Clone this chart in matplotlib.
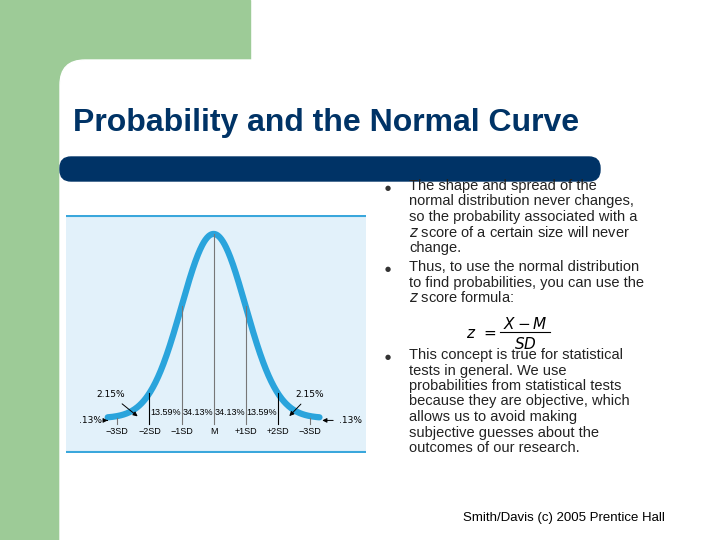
import numpy as np
import matplotlib
matplotlib.use("Agg")
import matplotlib.pyplot as plt
from matplotlib.patches import Rectangle, FancyBboxPatch

sd_pos = [-3, -2, -1, 0, 1, 2, 3]
sd_labels = ["\u22123SD", "\u22122SD", "\u22121SD", "M", "+1SD", "+2SD", "\u22123SD"]
band_mid = [-1.5, -0.5, 0.5, 1.5]
band_pct = ["13.59%", "34.13%", "34.13%", "13.59%"]
tail_pct = "2.15%"
end_pct = ".13%"

W, H = 720, 540
fig = plt.figure(figsize=(7.2, 5.4), dpi=100)
fig.patch.set_facecolor("white")
bg = fig.add_axes([0, 0, 1, 1]); bg.set_xlim(0, W); bg.set_ylim(H, 0); bg.axis("off")
green = "#9dcb97"
bg.add_patch(Rectangle((0, 0), 250, 80, color=green))
bg.add_patch(Rectangle((0, 0), 60, H, color=green))
bg.add_patch(FancyBboxPatch((60, 60), 700, 600, boxstyle="round,pad=0,rounding_size=25", color="white"))
bg.add_patch(FancyBboxPatch((60, 157), 540, 24, boxstyle="round,pad=0,rounding_size=11", color="#003366"))
bg.text(73, 123, "Probability and the Normal Curve", fontsize=23, fontweight="bold",
        color="#003366", family="Liberation Sans", va="center")

bul = [(186, ["The shape and spread of the", "normal distribution never changes,",
              "so the probability associated with a", "$z$ score of a certain size will never", "change."]),
       (267, ["Thus, to use the normal distribution", "to find probabilities, you can use the",
              "$z$ score formula:"]),
       (355, ["This concept is true for statistical", "tests in general. We use",
              "probabilities from statistical tests", "because they are objective, which",
              "allows us to avoid making", "subjective guesses about the", "outcomes of our research."])]
for y0, lines in bul:
    bg.text(385, y0 + 2, "\u25cf", fontsize=5, color="#333333", family="DejaVu Sans", va="center")
    for i, t in enumerate(lines):
        bg.text(409, y0 + i * 15.5, t, fontsize=10.5, color="#222222",
                family="Liberation Sans", va="center")
bg.text(466, 334, "$z$  =", fontsize=11, va="center")
bg.text(525, 324, "$X - M$", fontsize=11, va="center", ha="center")
bg.plot([500, 550], [332, 332], color="black", lw=0.8)
bg.text(525, 344, "$SD$", fontsize=11, va="center", ha="center")
bg.text(463, 518, "Smith/Davis (c) 2005 Prentice Hall", fontsize=9.5,
        family="Liberation Sans", va="center")

ax = fig.add_axes([66 / W, 1 - 453 / H, 300 / W, 238 / H])
ax.set_facecolor("#e2f1fa")
ax.set_xlim(-4.6, 4.75); ax.set_ylim(-0.0756, 0.44)
for s in ax.spines.values(): s.set_visible(False)
ax.set_xticks([]); ax.set_yticks([])
ax.axhline(0.437, color="#3aa7dc", lw=1.5)
ax.axhline(-0.074, color="#3aa7dc", lw=1.5)
pdf = lambda z: np.exp(-z ** 2 / 2) / np.sqrt(2 * np.pi)
z = np.linspace(-3.3, 3.3, 400)
ax.plot(z, pdf(z), color="#2aa4dc", lw=4.5, solid_capstyle="round")
for p, lab in zip(sd_pos, sd_labels):
    top = pdf(p) if abs(p) < 3 else 0.0
    col = "black" if abs(p) == 2 else "#777777"
    ax.plot([p, p], [-0.012, top], color=col, lw=0.8)
    ax.text(p, -0.02, lab, fontsize=6.5, ha="center", va="top", family="Liberation Sans")
for m, t in zip(band_mid, band_pct):
    ax.text(m, 0.003, t, fontsize=6.5, ha="center", va="bottom", family="Liberation Sans")
ax.annotate(tail_pct, xy=(-2.3, 0.0), xytext=(-3.2, 0.045), fontsize=6.5, ha="center",
            arrowprops=dict(arrowstyle="-|>", color="black", lw=0.7))
ax.annotate(tail_pct, xy=(2.3, 0.0), xytext=(3.0, 0.045), fontsize=6.5, ha="center",
            arrowprops=dict(arrowstyle="-|>", color="black", lw=0.7))
ax.annotate(end_pct, xy=(-3.3, -0.005), xytext=(-4.2, -0.005), fontsize=6.5, va="center",
            arrowprops=dict(arrowstyle="-|>", color="black", lw=0.7))
ax.annotate(end_pct, xy=(3.3, -0.005), xytext=(3.9, -0.005), fontsize=6.5, va="center",
            arrowprops=dict(arrowstyle="-|>", color="black", lw=0.7))
fig.savefig("out.png", dpi=100)
